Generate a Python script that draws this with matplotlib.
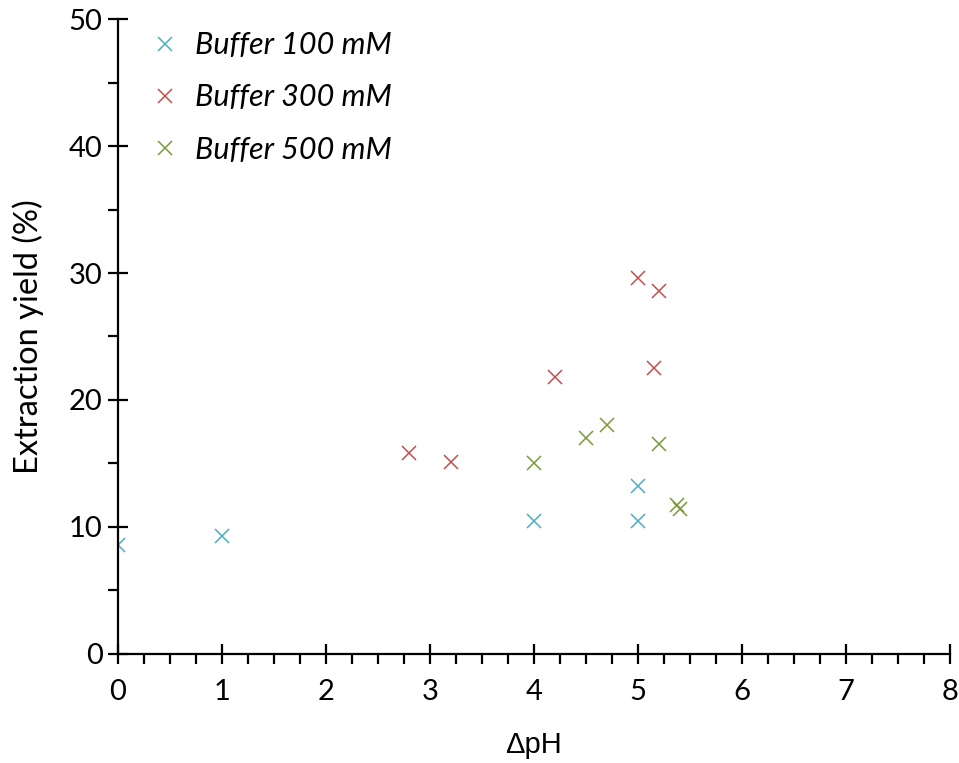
import matplotlib
matplotlib.use("Agg")
import matplotlib.pyplot as plt
from matplotlib.ticker import MultipleLocator

plt.rcParams["font.family"] = ["Lato", "DejaVu Sans"]

# extraction yield vs delta pH
dph_100 = [0, 1, 4, 5, 5]
yield_100 = [8.6, 9.3, 10.5, 13.2, 10.5]

dph_300 = [2.8, 3.2, 4.2, 5.0, 5.2, 5.15]
yield_300 = [15.8, 15.1, 21.8, 29.6, 28.6, 22.5]

dph_500 = [4.0, 4.5, 4.7, 5.2, 5.38, 5.4]
yield_500 = [15.0, 17.0, 18.0, 16.5, 11.7, 11.45]

labels = ["Buffer 100 mM", "Buffer 300 mM", "Buffer 500 mM"]
colors = ["#4BACC6", "#C0504D", "#7A9A3A"]

fig = plt.figure(figsize=(9.59, 7.63), dpi=100)
ax = fig.add_axes([0.123, 0.143, 0.8675, 0.832])

for xs, ys, lab, c in zip([dph_100, dph_300, dph_500],
                          [yield_100, yield_300, yield_500], labels, colors):
    ax.plot(xs, ys, ls="none", marker="x", ms=9.5, mew=1.1, color=c, label=lab)

ax.set_xlim(0, 8)
ax.set_ylim(0, 50)
ax.xaxis.set_major_locator(MultipleLocator(1))
ax.xaxis.set_minor_locator(MultipleLocator(0.25))
ax.yaxis.set_major_locator(MultipleLocator(10))
ax.yaxis.set_minor_locator(MultipleLocator(5))

for s in ["top", "right"]:
    ax.spines[s].set_visible(False)
for s in ["left", "bottom"]:
    ax.spines[s].set_linewidth(1.6)
    ax.spines[s].set_clip_on(False)

ax.tick_params(which="major", direction="inout", length=14, width=1.6,
               labelsize=21, pad=4)
ax.tick_params(which="minor", direction="out", length=7, width=1.6)
ax.tick_params(axis="x", which="major", pad=11)

ax.set_xlabel("\u0394pH", fontsize=21, family=["Liberation Sans", "DejaVu Sans"],
              labelpad=19)
ax.set_ylabel("Extraction yield (%)", fontsize=23.5, labelpad=18)

leg = ax.legend(loc="upper left", bbox_to_anchor=(0.002, 1.024), frameon=False,
                prop={"style": "italic", "size": 22}, labelspacing=0.79,
                handletextpad=0.37, handlelength=1.2)

fig.savefig("out.png", dpi=100)
